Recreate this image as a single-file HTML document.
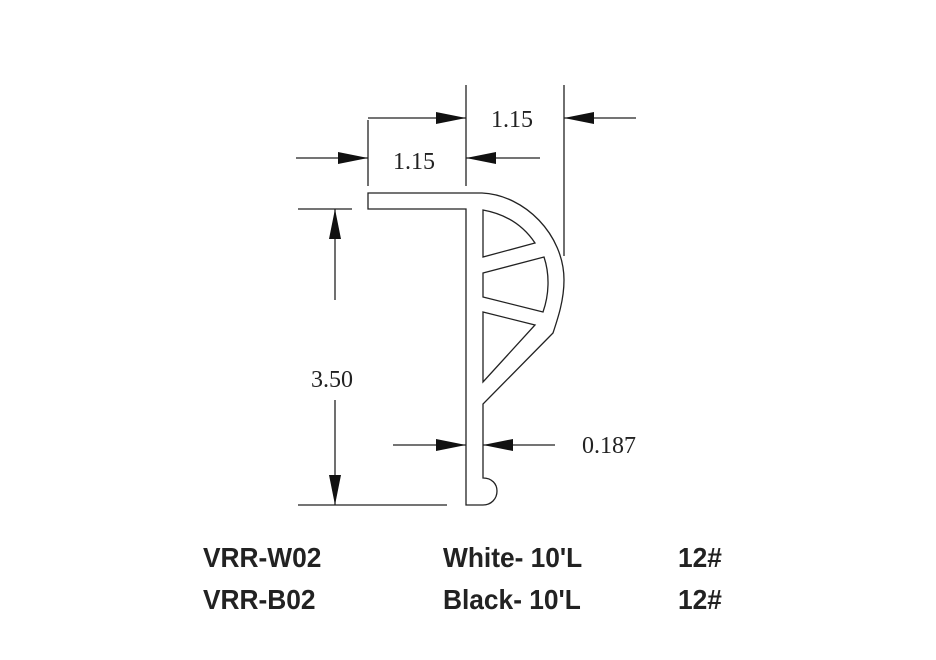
<!DOCTYPE html>
<html><head><meta charset="utf-8"><style>
html,body{margin:0;padding:0;background:#fff;}
svg{display:block;}
.d{font-family:"Liberation Serif",serif;font-size:24px;fill:#222;}
.b{font-family:"Liberation Sans",sans-serif;font-weight:bold;font-size:28px;fill:#222;}
</style></head><body>
<svg width="936" height="660" viewBox="0 0 936 660" xmlns="http://www.w3.org/2000/svg">
<defs>
<marker id="ar" markerWidth="30" markerHeight="12" refX="30" refY="6" orient="auto" markerUnits="userSpaceOnUse">
<path d="M0,0 L30,6 L0,12 z" fill="#111"/></marker>
</defs>
<g stroke="#222" stroke-width="1.3" fill="none">
<path d="M368,193 L482,193 C525,195 564,235 564,280 C564,300 558,318 553,333 L483,404 L483,478 C492,478 497,484 497,491 C497,499 491,505 483,505 L466,505 L466,209 L368,209 Z"/>
<path d="M483,210 C505,214 523,225 535,243 L483,257 Z"/>
<path d="M483,273 L544,257 C550,275 549,295 543,312 L483,297 Z"/>
<path d="M483,312 L535,325 L483,382 Z"/>
<line x1="368" y1="120" x2="368" y2="186"/>
<line x1="466" y1="85" x2="466" y2="186"/>
<line x1="564" y1="85" x2="564" y2="256"/>
<line x1="298" y1="209" x2="352" y2="209"/>
<line x1="298" y1="505" x2="447" y2="505"/>
<line x1="368" y1="118" x2="466" y2="118" marker-end="url(#ar)"/>
<line x1="636" y1="118" x2="564" y2="118" marker-end="url(#ar)"/>
<line x1="296" y1="158" x2="368" y2="158" marker-end="url(#ar)"/>
<line x1="540" y1="158" x2="466" y2="158" marker-end="url(#ar)"/>
<line x1="335" y1="300" x2="335" y2="209" marker-end="url(#ar)"/>
<line x1="335" y1="400" x2="335" y2="505" marker-end="url(#ar)"/>
<line x1="393" y1="445" x2="466" y2="445" marker-end="url(#ar)"/>
<line x1="555" y1="445" x2="483" y2="445" marker-end="url(#ar)"/>
</g>
<text class="d" x="491" y="127">1.15</text>
<text class="d" x="393" y="169">1.15</text>
<text class="d" x="311" y="387">3.50</text>
<text class="d" x="582" y="453">0.187</text>
<g transform="translate(203,0) scale(0.94,1)"><text class="b" x="0" y="567">VRR-W02</text><text class="b" x="0" y="609">VRR-B02</text></g>
<g transform="translate(443,0) scale(0.94,1)"><text class="b" x="0" y="567">White- 10'L</text><text class="b" x="0" y="609">Black- 10'L</text></g>
<g transform="translate(678,0) scale(0.94,1)"><text class="b" x="0" y="567">12#</text><text class="b" x="0" y="609">12#</text></g>
</svg>
</body></html>
